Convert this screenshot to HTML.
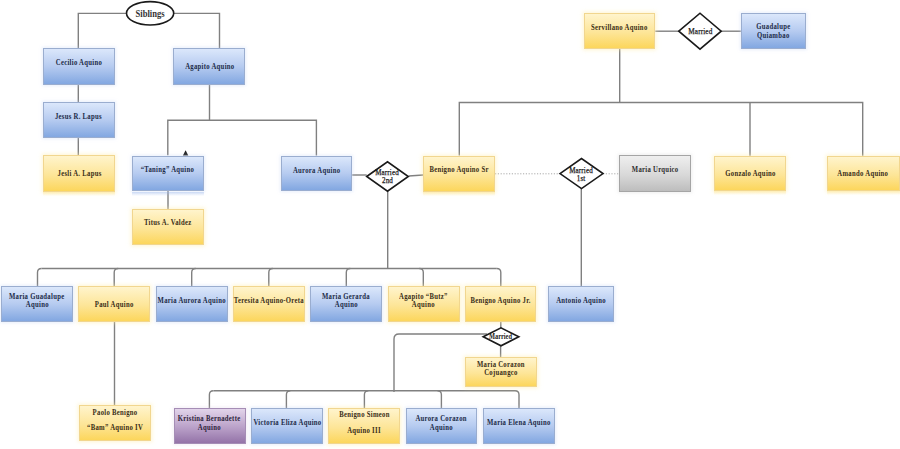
<!DOCTYPE html>
<html><head><meta charset="utf-8">
<style>
html,body{margin:0;padding:0;background:#fff;}
body{width:900px;height:449px;position:relative;overflow:hidden;font-family:"Liberation Serif",serif;}
.b{position:absolute;box-sizing:border-box;border:1px solid;}
.t{position:absolute;white-space:nowrap;font-weight:bold;text-align:center;height:10px;line-height:10px;}
.t span{display:inline-block;letter-spacing:var(--ls,0.36px);transform:scaleX(0.8);transform-origin:50% 50%;}
svg{position:absolute;left:0;top:0;}
</style></head><body>
<svg width="900" height="449" viewBox="0 0 900 449">
<g fill="none" stroke="#808080" stroke-width="1.4">
<path d="M126,13.4 H78.3 V48"/>
<path d="M174,13.4 H219.5 V48.3"/>
<path d="M78.3,85 V102"/>
<path d="M78.3,138 V155.4"/>
<path d="M209.5,85 V120.3"/>
<path d="M167.8,155.3 V120.3 H316.4 V155.5"/>
<path d="M168,191 V209.4"/>
<path d="M352.2,175 H366.7"/>
<path d="M408.7,176 L423.1,175"/>
<path d="M387.7,190.8 V268.5"/>
<path d="M459.3,155.5 V102.5 H862.7 V155.8"/>
<path d="M619.7,48.8 V102.5"/>
<path d="M750,102.5 V155.7"/>
<path d="M655.3,31.2 H679"/>
<path d="M721,31.2 H740.8"/>
<path d="M581.3,188.3 V286"/>
<path d="M41.50,268.5 H496.80"/>
<path d="M41.50,268.50 Q37.50,268.50 37.50,272.50 V286.00"/>
<path d="M118.20,268.50 Q114.20,268.50 114.20,272.50 V286.00"/>
<path d="M195.70,268.50 Q191.70,268.50 191.70,272.50 V286.00"/>
<path d="M272.80,268.50 Q268.80,268.50 268.80,272.50 V286.00"/>
<path d="M350.30,268.50 Q346.30,268.50 346.30,272.50 V286.00"/>
<path d="M419.30,268.50 Q423.30,268.50 423.30,272.50 V286.00"/>
<path d="M496.80,268.50 Q500.80,268.50 500.80,272.50 V286.00"/>
<path d="M114.5,322 V405.2"/>
<path d="M500.8,322 V328"/>
<path d="M500.6,345.6 V357.4"/>
<path d="M487,334 H399 Q394,334 394,339 V392"/>
<path d="M213.40,390.8 H515.00"/>
<path d="M213.40,390.80 Q209.40,390.80 209.40,394.80 V408.00"/>
<path d="M290.40,390.80 Q286.40,390.80 286.40,394.80 V408.00"/>
<path d="M368.40,390.80 Q364.40,390.80 364.40,394.80 V408.00"/>
<path d="M437.40,390.80 Q441.40,390.80 441.40,394.80 V408.00"/>
<path d="M515.00,390.80 Q519.00,390.80 519.00,394.80 V408.00"/>
</g>
<g fill="none" stroke="#aaaaaa" stroke-width="1" stroke-dasharray="1.2,1.6"><path d="M495,173.8 H560"/><path d="M603,173.8 H619.3"/></g>
<path d="M185.6,150.2 L188.3,155.6 L182.9,155.6 Z" fill="#222"/>
<ellipse cx="150.1" cy="13.3" rx="23.6" ry="11.7" fill="#fff" stroke="#1a1a1a" stroke-width="1.6"/>
<path d="M366.7,176.5 L387.5,161.8 L408.3,176.5 L387.5,191.2 Z" fill="#fff" stroke="#1a1a1a" stroke-width="1.6"/>
<path d="M678.8,31.2 L700.0,13.2 L721.2,31.2 L700.0,49.2 Z" fill="#fff" stroke="#1a1a1a" stroke-width="1.6"/>
<path d="M560.0,173.6 L581.5,158.6 L603.0,173.6 L581.5,188.6 Z" fill="#fff" stroke="#1a1a1a" stroke-width="1.6"/>
<path d="M483.2,336.8 L501.0,327.8 L518.8,336.8 L501.0,345.8 Z" fill="#fff" stroke="#1a1a1a" stroke-width="1.6"/>
</svg>
<div class="b" style="left:43.0px;top:48.0px;width:71.5px;height:37.0px;background:linear-gradient(to bottom,#dbe7fb 0%,#b6cbf0 50%,#82a7e1 100%);border-color:#9aadcf;box-shadow:0 0 3px 1px rgba(190,210,245,0.35)"></div>
<div class="t" style="left:-21.2px;top:57.7px;width:200px;font-size:8.4px;color:#1c2b48"><span>Cecilio Aquino</span></div>
<div class="b" style="left:173.3px;top:48.3px;width:72.2px;height:36.7px;background:linear-gradient(to bottom,#dbe7fb 0%,#b6cbf0 50%,#82a7e1 100%);border-color:#9aadcf;box-shadow:0 0 3px 1px rgba(190,210,245,0.35)"></div>
<div class="t" style="left:109.4px;top:62.3px;width:200px;font-size:8.4px;color:#1c2b48"><span>Agapito Aquino</span></div>
<div class="b" style="left:43.0px;top:102.0px;width:71.7px;height:36.0px;background:linear-gradient(to bottom,#dbe7fb 0%,#b6cbf0 50%,#82a7e1 100%);border-color:#9aadcf;box-shadow:0 0 3px 1px rgba(190,210,245,0.35)"></div>
<div class="t" style="left:-21.2px;top:111.5px;width:200px;font-size:8.4px;color:#1c2b48"><span>Jesus R. Lapus</span></div>
<div class="b" style="left:43.3px;top:155.4px;width:71.6px;height:36.6px;background:linear-gradient(to bottom,#fff4cc 0%,#fde597 55%,#fcd65c 100%);border-color:#f1d68f;box-shadow:0 0 4px 1px rgba(254,236,170,0.55)"></div>
<div class="t" style="left:-20.9px;top:169.0px;width:200px;font-size:8.4px;color:#3a2e17"><span>Jesli A. Lapus</span></div>
<div class="b" style="left:131.7px;top:155.7px;width:72.0px;height:35.8px;background:linear-gradient(to bottom,#dbe7fb 0%,#b6cbf0 50%,#82a7e1 100%);border-color:#9aadcf;box-shadow:0 0 3px 1px rgba(190,210,245,0.35)"></div>
<div class="t" style="left:67.7px;top:164.9px;width:200px;font-size:8.4px;color:#1c2b48"><span>“Taning” Aquino</span></div>
<div class="b" style="left:132.0px;top:209.4px;width:71.8px;height:35.6px;background:linear-gradient(to bottom,#fff4cc 0%,#fde597 55%,#fcd65c 100%);border-color:#f1d68f;box-shadow:0 0 4px 1px rgba(254,236,170,0.55)"></div>
<div class="t" style="left:67.9px;top:218.0px;width:200px;font-size:8.4px;color:#3a2e17"><span>Titus A. Valdez</span></div>
<div class="b" style="left:280.8px;top:155.7px;width:71.4px;height:35.6px;background:linear-gradient(to bottom,#dbe7fb 0%,#b6cbf0 50%,#82a7e1 100%);border-color:#9aadcf;box-shadow:0 0 3px 1px rgba(190,210,245,0.35)"></div>
<div class="t" style="left:216.5px;top:165.7px;width:200px;font-size:8.4px;color:#1c2b48"><span>Aurora Aquino</span></div>
<div class="b" style="left:423.1px;top:155.7px;width:71.5px;height:36.3px;background:linear-gradient(to bottom,#fff4cc 0%,#fde597 55%,#fcd65c 100%);border-color:#f1d68f;box-shadow:0 0 4px 1px rgba(254,236,170,0.55)"></div>
<div class="t" style="left:358.9px;top:165.4px;width:200px;font-size:8.4px;color:#3a2e17"><span>Benigno Aquino Sr</span></div>
<div class="b" style="left:619.4px;top:155.4px;width:71.9px;height:36.4px;background:linear-gradient(to bottom,#efefef 0%,#d8d8d8 55%,#bdbdbd 100%);border-color:#a5a5a5;box-shadow:0 0 3px 1px rgba(210,210,210,0.35)"></div>
<div class="t" style="left:555.3px;top:165.0px;width:200px;font-size:8.4px;color:#2e2e2e"><span>Maria Urquico</span></div>
<div class="b" style="left:714.3px;top:155.7px;width:72.0px;height:35.3px;background:linear-gradient(to bottom,#fff4cc 0%,#fde597 55%,#fcd65c 100%);border-color:#f1d68f;box-shadow:0 0 4px 1px rgba(254,236,170,0.55)"></div>
<div class="t" style="left:650.3px;top:169.3px;width:200px;font-size:8.4px;color:#3a2e17"><span>Gonzalo Aquino</span></div>
<div class="b" style="left:827.0px;top:155.8px;width:72.5px;height:35.2px;background:linear-gradient(to bottom,#fff4cc 0%,#fde597 55%,#fcd65c 100%);border-color:#f1d68f;box-shadow:0 0 4px 1px rgba(254,236,170,0.55)"></div>
<div class="t" style="left:763.2px;top:169.3px;width:200px;font-size:8.4px;color:#3a2e17"><span>Amando Aquino</span></div>
<div class="b" style="left:583.7px;top:12.8px;width:71.6px;height:36.0px;background:linear-gradient(to bottom,#fff4cc 0%,#fde597 55%,#fcd65c 100%);border-color:#f1d68f;box-shadow:0 0 4px 1px rgba(254,236,170,0.55)"></div>
<div class="t" style="left:519.5px;top:22.7px;width:200px;font-size:8.4px;color:#3a2e17"><span>Servillano Aquino</span></div>
<div class="b" style="left:740.8px;top:13.0px;width:65.4px;height:35.8px;background:linear-gradient(to bottom,#dbe7fb 0%,#b6cbf0 50%,#82a7e1 100%);border-color:#9aadcf;box-shadow:0 0 3px 1px rgba(190,210,245,0.35)"></div>
<div class="t" style="left:673.5px;top:22.3px;width:200px;font-size:8.4px;color:#1c2b48"><span>Guadalupe</span></div>
<div class="t" style="left:673.5px;top:31.0px;width:200px;font-size:8.4px;color:#1c2b48"><span>Quiambao</span></div>
<div class="b" style="left:1.3px;top:286.0px;width:71.5px;height:36.0px;background:linear-gradient(to bottom,#dbe7fb 0%,#b6cbf0 50%,#82a7e1 100%);border-color:#9aadcf;box-shadow:0 0 3px 1px rgba(190,210,245,0.35)"></div>
<div class="t" style="left:-63.0px;top:291.5px;width:200px;font-size:8.4px;color:#1c2b48"><span>Maria Guadalupe</span></div>
<div class="t" style="left:-63.0px;top:300.2px;width:200px;font-size:8.4px;color:#1c2b48"><span>Aquino</span></div>
<div class="b" style="left:78.3px;top:286.0px;width:71.4px;height:36.0px;background:linear-gradient(to bottom,#fff4cc 0%,#fde597 55%,#fcd65c 100%);border-color:#f1d68f;box-shadow:0 0 4px 1px rgba(254,236,170,0.55)"></div>
<div class="t" style="left:14.0px;top:300.2px;width:200px;font-size:8.4px;color:#3a2e17"><span>Paul Aquino</span></div>
<div class="b" style="left:155.8px;top:286.0px;width:72.0px;height:36.0px;background:linear-gradient(to bottom,#dbe7fb 0%,#b6cbf0 50%,#82a7e1 100%);border-color:#9aadcf;box-shadow:0 0 3px 1px rgba(190,210,245,0.35)"></div>
<div class="t" style="left:91.8px;top:295.7px;width:200px;font-size:8.4px;color:#1c2b48"><span>Maria Aurora Aquino</span></div>
<div class="b" style="left:233.0px;top:286.0px;width:71.7px;height:36.0px;background:linear-gradient(to bottom,#fff4cc 0%,#fde597 55%,#fcd65c 100%);border-color:#f1d68f;box-shadow:0 0 4px 1px rgba(254,236,170,0.55)"></div>
<div class="t" style="left:168.9px;top:295.7px;width:200px;font-size:8.4px;color:#3a2e17"><span>Teresita Aquino-Oreta</span></div>
<div class="b" style="left:310.3px;top:286.0px;width:71.4px;height:36.0px;background:linear-gradient(to bottom,#dbe7fb 0%,#b6cbf0 50%,#82a7e1 100%);border-color:#9aadcf;box-shadow:0 0 3px 1px rgba(190,210,245,0.35)"></div>
<div class="t" style="left:246.0px;top:291.5px;width:200px;font-size:8.4px;color:#1c2b48"><span>Maria Gerarda</span></div>
<div class="t" style="left:246.0px;top:300.2px;width:200px;font-size:8.4px;color:#1c2b48"><span>Aquino</span></div>
<div class="b" style="left:387.5px;top:286.0px;width:72.0px;height:36.0px;background:linear-gradient(to bottom,#fff4cc 0%,#fde597 55%,#fcd65c 100%);border-color:#f1d68f;box-shadow:0 0 4px 1px rgba(254,236,170,0.55)"></div>
<div class="t" style="left:323.5px;top:291.5px;width:200px;font-size:8.4px;color:#3a2e17"><span>Agapito “Butz”</span></div>
<div class="t" style="left:323.5px;top:300.2px;width:200px;font-size:8.4px;color:#3a2e17"><span>Aquino</span></div>
<div class="b" style="left:465.0px;top:286.0px;width:71.3px;height:36.0px;background:linear-gradient(to bottom,#fff4cc 0%,#fde597 55%,#fcd65c 100%);border-color:#f1d68f;box-shadow:0 0 4px 1px rgba(254,236,170,0.55)"></div>
<div class="t" style="left:400.6px;top:295.7px;width:200px;font-size:8.4px;color:#3a2e17"><span>Benigno Aquino Jr.</span></div>
<div class="b" style="left:548.0px;top:286.0px;width:65.8px;height:36.0px;background:linear-gradient(to bottom,#dbe7fb 0%,#b6cbf0 50%,#82a7e1 100%);border-color:#9aadcf;box-shadow:0 0 3px 1px rgba(190,210,245,0.35)"></div>
<div class="t" style="left:480.9px;top:295.7px;width:200px;font-size:8.4px;color:#1c2b48"><span>Antonio Aquino</span></div>
<div class="b" style="left:465.0px;top:357.4px;width:71.5px;height:30.0px;background:linear-gradient(to bottom,#fff4cc 0%,#fde597 55%,#fcd65c 100%);border-color:#f1d68f;box-shadow:0 0 4px 1px rgba(254,236,170,0.55)"></div>
<div class="t" style="left:400.8px;top:359.6px;width:200px;font-size:8.4px;color:#3a2e17"><span>Maria Corazon</span></div>
<div class="t" style="left:400.8px;top:368.4px;width:200px;font-size:8.4px;color:#3a2e17"><span>Cojuangco</span></div>
<div class="b" style="left:78.5px;top:405.2px;width:72.2px;height:36.1px;background:linear-gradient(to bottom,#fff4cc 0%,#fde597 55%,#fcd65c 100%);border-color:#f1d68f;box-shadow:0 0 4px 1px rgba(254,236,170,0.55)"></div>
<div class="t" style="left:14.6px;top:407.7px;width:200px;font-size:8.4px;color:#3a2e17"><span>Paolo Benigno</span></div>
<div class="t" style="left:14.6px;top:422.9px;width:200px;font-size:8.4px;color:#3a2e17"><span>“Bam” Aquino IV</span></div>
<div class="b" style="left:173.6px;top:408.0px;width:72.0px;height:36.0px;background:linear-gradient(to bottom,#e2d4ea 0%,#b9a0c8 55%,#9473a8 100%);border-color:#a58db5;box-shadow:0 0 3px 1px rgba(220,205,230,0.35)"></div>
<div class="t" style="left:109.6px;top:414.0px;width:200px;font-size:8.4px;color:#2d1f3a"><span>Kristina Bernadette</span></div>
<div class="t" style="left:109.6px;top:422.6px;width:200px;font-size:8.4px;color:#2d1f3a"><span>Aquino</span></div>
<div class="b" style="left:251.0px;top:408.0px;width:72.0px;height:36.0px;background:linear-gradient(to bottom,#dbe7fb 0%,#b6cbf0 50%,#82a7e1 100%);border-color:#9aadcf;box-shadow:0 0 3px 1px rgba(190,210,245,0.35)"></div>
<div class="t" style="left:187.0px;top:418.4px;width:200px;font-size:8.4px;color:#1c2b48"><span>Victoria Eliza Aquino</span></div>
<div class="b" style="left:328.0px;top:408.0px;width:72.0px;height:36.0px;background:linear-gradient(to bottom,#fff4cc 0%,#fde597 55%,#fcd65c 100%);border-color:#f1d68f;box-shadow:0 0 4px 1px rgba(254,236,170,0.55)"></div>
<div class="t" style="left:264.0px;top:410.4px;width:200px;font-size:8.4px;color:#3a2e17"><span>Benigno Simeon</span></div>
<div class="t" style="left:264.0px;top:426.0px;width:200px;font-size:8.4px;color:#3a2e17"><span>Aquino III</span></div>
<div class="b" style="left:405.6px;top:408.0px;width:71.4px;height:36.0px;background:linear-gradient(to bottom,#dbe7fb 0%,#b6cbf0 50%,#82a7e1 100%);border-color:#9aadcf;box-shadow:0 0 3px 1px rgba(190,210,245,0.35)"></div>
<div class="t" style="left:341.3px;top:414.0px;width:200px;font-size:8.4px;color:#1c2b48"><span>Aurora Corazon</span></div>
<div class="t" style="left:341.3px;top:422.6px;width:200px;font-size:8.4px;color:#1c2b48"><span>Aquino</span></div>
<div class="b" style="left:483.0px;top:408.0px;width:71.6px;height:36.0px;background:linear-gradient(to bottom,#dbe7fb 0%,#b6cbf0 50%,#82a7e1 100%);border-color:#9aadcf;box-shadow:0 0 3px 1px rgba(190,210,245,0.35)"></div>
<div class="t" style="left:418.8px;top:418.4px;width:200px;font-size:8.4px;color:#1c2b48"><span>Maria Elena Aquino</span></div>
<div style="position:absolute;left:43.3px;top:192.0px;width:71.6px;height:4px;background:linear-gradient(to bottom,rgba(253,225,130,0.45),rgba(255,255,255,0))"></div>
<div style="position:absolute;left:131.7px;top:191.5px;width:72.0px;height:4px;background:linear-gradient(to bottom,rgba(150,180,235,0.45),rgba(255,255,255,0))"></div>
<div style="position:absolute;left:423.1px;top:192.0px;width:71.5px;height:4px;background:linear-gradient(to bottom,rgba(253,225,130,0.45),rgba(255,255,255,0))"></div>
<div style="position:absolute;left:714.3px;top:191.0px;width:72.0px;height:4px;background:linear-gradient(to bottom,rgba(253,225,130,0.45),rgba(255,255,255,0))"></div>
<div style="position:absolute;left:827.0px;top:191.0px;width:72.5px;height:4px;background:linear-gradient(to bottom,rgba(253,225,130,0.45),rgba(255,255,255,0))"></div>
<div class="t" style="left:50.2px;top:9.1px;width:200px;font-size:9.5px;color:#333;font-weight:bold;--ls:0px"><span style="transform:scaleX(0.9)">Siblings</span></div>
<div class="t" style="left:600.0px;top:26.0px;width:200px;font-size:8.6px;color:#1a1a1a;font-weight:normal;--ls:0.15px;-webkit-text-stroke:0.25px #1a1a1a"><span style="transform:scaleX(0.84)">Married</span></div>
<div class="t" style="left:287.5px;top:168.3px;width:200px;font-size:8.4px;color:#1a1a1a;font-weight:normal;--ls:0.15px;-webkit-text-stroke:0.25px #1a1a1a"><span style="transform:scaleX(0.84)">Married</span></div>
<div class="t" style="left:287.5px;top:176.2px;width:200px;font-size:8.4px;color:#1a1a1a;font-weight:normal;--ls:0.15px;-webkit-text-stroke:0.25px #1a1a1a"><span style="transform:scaleX(0.84)">2nd</span></div>
<div class="t" style="left:480.8px;top:165.6px;width:200px;font-size:8.4px;color:#1a1a1a;font-weight:normal;--ls:0.15px;-webkit-text-stroke:0.25px #1a1a1a"><span style="transform:scaleX(0.84)">Married</span></div>
<div class="t" style="left:480.8px;top:173.6px;width:200px;font-size:8.4px;color:#1a1a1a;font-weight:normal;--ls:0.15px;-webkit-text-stroke:0.25px #1a1a1a"><span style="transform:scaleX(0.84)">1st</span></div>
<div class="t" style="left:400.8px;top:332.3px;width:200px;font-size:8.0px;color:#222;font-weight:bold;--ls:0px"><span style="transform:scaleX(0.8)">Married</span></div>
</body></html>
